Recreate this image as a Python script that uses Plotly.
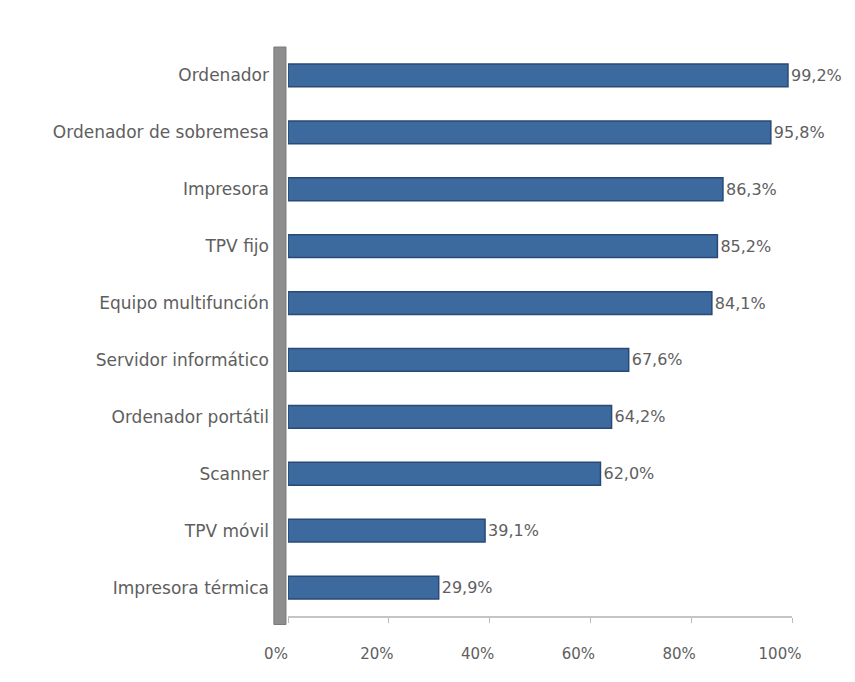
import plotly.graph_objects as go

categories = ["Ordenador", "Ordenador de sobremesa", "Impresora", "TPV fijo",
              "Equipo multifunción", "Servidor informático", "Ordenador portátil",
              "Scanner", "TPV móvil", "Impresora térmica"]
values = [99.2, 95.8, 86.3, 85.2, 84.1, 67.6, 64.2, 62.0, 39.1, 29.9]
tick_vals = [0, 20, 40, 60, 80, 100]
tick_text = ["0%", "20%", "40%", "60%", "80%", "100%"]

FONT = "DejaVu Sans"
GRAY = "#5E5E5E"

fig = go.Figure(go.Bar(
    x=values, y=categories, orientation="h",
    width=0.4,
    marker=dict(color="#3C6A9F", line=dict(color="#284A74", width=1.5)),
    texttemplate="%{x:.1f}%", textposition="outside",
    textfont=dict(family=FONT, size=16, color=GRAY),
    cliponaxis=False,
))

fig.update_layout(
    width=855, height=682,
    margin=dict(l=288, r=63, t=47, b=66),
    paper_bgcolor="white", plot_bgcolor="white",
    separators=",.",
    showlegend=False,
    bargap=0.6,
    font=dict(family=FONT, size=16, color=GRAY),
    xaxis=dict(range=[0, 100], tickvals=tick_vals, ticktext=tick_text,
               showgrid=False, zeroline=False, showline=True,
               linecolor="#C4C4C4", linewidth=1.5, ticks="outside",
               ticklen=5, tickcolor="#BBBBBB",
               ticklabelstandoff=18, ticklabelshift=-12,
               tickfont=dict(family=FONT, size=15, color=GRAY)),
    yaxis=dict(autorange="reversed", showgrid=False, zeroline=False,
               showline=False, ticks="", ticklabelstandoff=18,
               tickfont=dict(family=FONT, size=17, color=GRAY)),
    shapes=[
        dict(type="rect", xref="paper", yref="paper",
             x0=-0.028, x1=-0.004, y0=-0.015, y1=1.0,
             fillcolor="#8E8E8E", line=dict(color="#7A7A7A", width=1),
             layer="below"),
    ],
)

fig.write_html("out.html")
